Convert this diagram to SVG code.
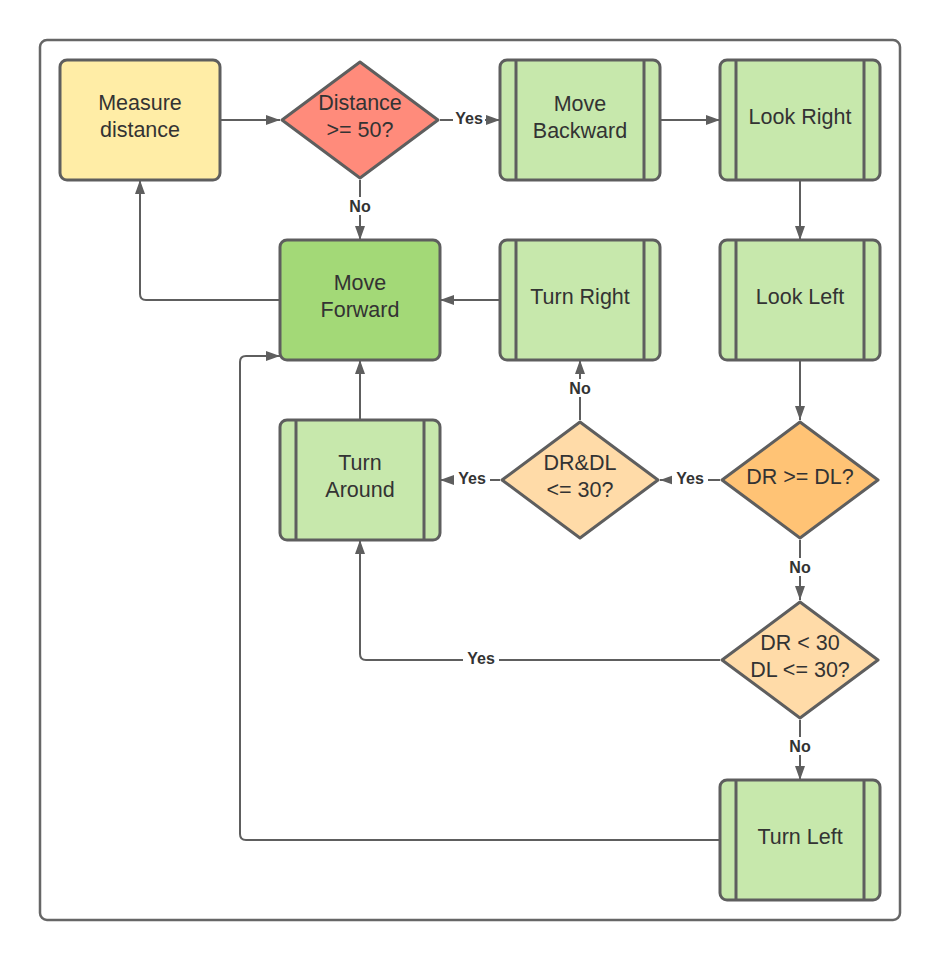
<svg xmlns="http://www.w3.org/2000/svg" width="940" height="960" viewBox="0 0 940 960">
<defs>
<marker id="ah" markerWidth="14" markerHeight="10" refX="14" refY="5" orient="auto" markerUnits="userSpaceOnUse">
<path d="M0,0 L14,5 L0,10 Z" fill="#5E5E5E"/>
</marker>
<style>
.frame{fill:#fff;stroke:#666;stroke-width:2.5}
.box{stroke:#5E5E5E;stroke-width:3}
.sub{stroke:#5E5E5E;stroke-width:3;fill:none}
.yellow{fill:#FFEDA6}
.red{fill:#FF8B7B}
.lg{fill:#C7E8AC}
.dg{fill:#A3D977}
.lo{fill:#FFDBA8}
.or{fill:#FFC375}
.t{font-family:"Liberation Sans",Arial,sans-serif;font-size:21.5px;fill:#333;text-anchor:middle}
.c{fill:none;stroke:#5E5E5E;stroke-width:2}
.lbl{font-family:"Liberation Sans",Arial,sans-serif;font-size:16px;font-weight:bold;fill:#333;text-anchor:middle}
.lb{fill:#fff}
</style>
</defs>
<rect width="940" height="960" fill="#fff"/>
<rect class="frame" x="40" y="40" width="860" height="880" rx="7"/>

<g id="connectors">
<path class="c" d="M220,120 H280" marker-end="url(#ah)"/>
<path class="c" d="M440,120 H500" marker-end="url(#ah)"/>
<path class="c" d="M360,180 V240" marker-end="url(#ah)"/>
<path class="c" d="M660,120 H720" marker-end="url(#ah)"/>
<path class="c" d="M800,180 V240" marker-end="url(#ah)"/>
<path class="c" d="M800,360 V420" marker-end="url(#ah)"/>
<path class="c" d="M720,480 H660" marker-end="url(#ah)"/>
<path class="c" d="M500,480 H440" marker-end="url(#ah)"/>
<path class="c" d="M580,420 V360" marker-end="url(#ah)"/>
<path class="c" d="M500,300 H440" marker-end="url(#ah)"/>
<path class="c" d="M360,420 V360" marker-end="url(#ah)"/>
<path class="c" d="M280,300 H146 Q140,300 140,294 V180" marker-end="url(#ah)"/>
<path class="c" d="M800,540 V600" marker-end="url(#ah)"/>
<path class="c" d="M720,660 H366 Q360,660 360,654 V540" marker-end="url(#ah)"/>
<path class="c" d="M800,720 V780" marker-end="url(#ah)"/>
<path class="c" d="M720,840 H246 Q240,840 240,834 V362 Q240,356 246,356 H280" marker-end="url(#ah)"/>
<rect class="lb" x="453" y="109" width="32" height="18"/>
<text class="lbl" x="469" y="124">Yes</text>
<rect class="lb" x="345" y="197" width="30" height="18"/>
<text class="lbl" x="360" y="212">No</text>
<rect class="lb" x="672" y="469" width="36" height="18"/>
<text class="lbl" x="690" y="484">Yes</text>
<rect class="lb" x="454" y="469" width="36" height="18"/>
<text class="lbl" x="472" y="484">Yes</text>
<rect class="lb" x="565" y="379" width="30" height="18"/>
<text class="lbl" x="580" y="394">No</text>
<rect class="lb" x="785" y="558" width="30" height="18"/>
<text class="lbl" x="800" y="573">No</text>
<rect class="lb" x="463" y="649" width="36" height="18"/>
<text class="lbl" x="481" y="664">Yes</text>
<rect class="lb" x="785" y="737" width="30" height="18"/>
<text class="lbl" x="800" y="752">No</text>
</g>

<g id="measure">
<rect class="box yellow" x="60" y="60" width="160" height="120" rx="7"/>
<text class="t" x="140" y="110">Measure</text>
<text class="t" x="140" y="137">distance</text>
</g>
<g id="distance">
<path class="box red" d="M360,62 L438,120 L360,178 L282,120 Z" stroke-linejoin="round"/>
<text class="t" x="360" y="110">Distance</text>
<text class="t" x="360" y="137">&gt;= 50?</text>
</g>
<g id="move-backward">
<rect class="box lg" x="500" y="60" width="160" height="120" rx="7"/>
<path class="sub" d="M516,60 V180 M644,60 V180"/>
<text class="t" x="580" y="111">Move</text>
<text class="t" x="580" y="138">Backward</text>
</g>
<g id="look-right">
<rect class="box lg" x="720" y="60" width="160" height="120" rx="7"/>
<path class="sub" d="M736,60 V180 M864,60 V180"/>
<text class="t" x="800" y="124">Look Right</text>
</g>
<g id="move-forward">
<rect class="box dg" x="280" y="240" width="160" height="120" rx="7"/>
<text class="t" x="360" y="290">Move</text>
<text class="t" x="360" y="317">Forward</text>
</g>
<g id="turn-right">
<rect class="box lg" x="500" y="240" width="160" height="120" rx="7"/>
<path class="sub" d="M516,240 V360 M644,240 V360"/>
<text class="t" x="580" y="304">Turn Right</text>
</g>
<g id="look-left">
<rect class="box lg" x="720" y="240" width="160" height="120" rx="7"/>
<path class="sub" d="M736,240 V360 M864,240 V360"/>
<text class="t" x="800" y="304">Look Left</text>
</g>
<g id="turn-around">
<rect class="box lg" x="280" y="420" width="160" height="120" rx="7"/>
<path class="sub" d="M296,420 V540 M424,420 V540"/>
<text class="t" x="360" y="470">Turn</text>
<text class="t" x="360" y="497">Around</text>
</g>
<g id="drdl">
<path class="box lo" d="M580,422 L658,480 L580,538 L502,480 Z" stroke-linejoin="round"/>
<text class="t" x="580" y="470">DR&amp;DL</text>
<text class="t" x="580" y="497">&lt;= 30?</text>
</g>
<g id="dr-ge-dl">
<path class="box or" d="M800,422 L878,480 L800,538 L722,480 Z" stroke-linejoin="round"/>
<text class="t" x="800" y="484">DR &gt;= DL?</text>
</g>
<g id="dr-lt-30">
<path class="box lo" d="M800,602 L878,660 L800,718 L722,660 Z" stroke-linejoin="round"/>
<text class="t" x="800" y="650">DR &lt; 30</text>
<text class="t" x="800" y="677">DL &lt;= 30?</text>
</g>
<g id="turn-left">
<rect class="box lg" x="720" y="780" width="160" height="120" rx="7"/>
<path class="sub" d="M736,780 V900 M864,780 V900"/>
<text class="t" x="800" y="844">Turn Left</text>
</g>
</svg>
